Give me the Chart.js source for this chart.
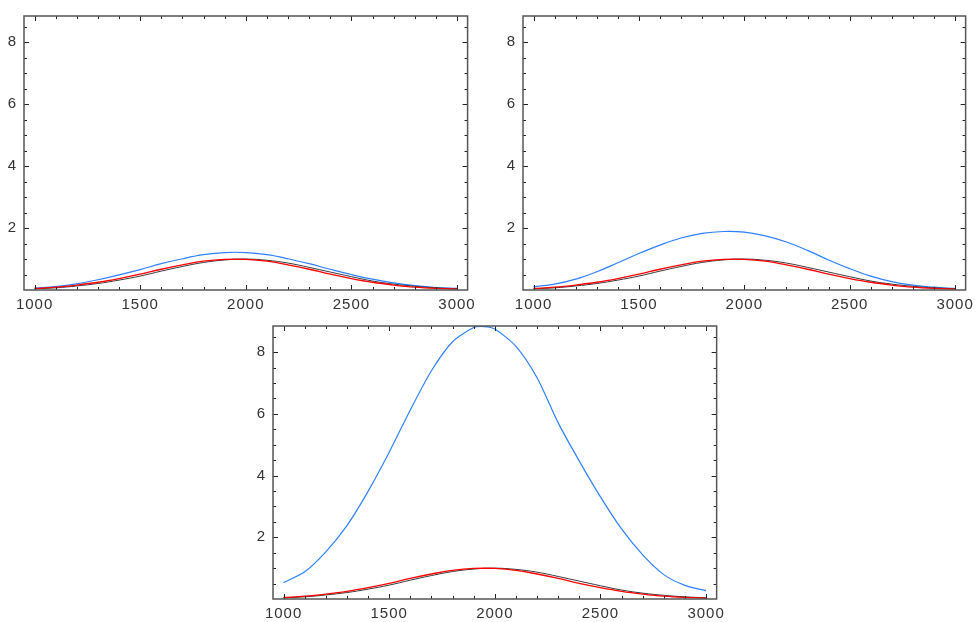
<!DOCTYPE html>
<html>
<head>
<meta charset="utf-8">
<script src="https://cdn.jsdelivr.net/npm/chart.js@4.4.1/dist/chart.umd.min.js"></script>
<style>
html, body { margin: 0; padding: 0; background: #fff; overflow: hidden; }
body { width: 978px; height: 622px; position: relative; }
.panel { position: absolute; }
</style>
</head>
<body>
<div class="panel" style="left:0;top:0"><canvas id="c1" width="480" height="315"></canvas></div>
<div class="panel" style="left:499px;top:0"><canvas id="c2" width="479" height="315"></canvas></div>
<div class="panel" style="left:249px;top:310px"><canvas id="c3" width="480" height="312"></canvas></div>
<script>
// valores
const xValues = [1000, 1100, 1200, 1300, 1400, 1500, 1600, 1700, 1800, 1900, 2000,
                 2100, 2200, 2300, 2400, 2500, 2600, 2700, 2800, 2900, 3000];
const blackCurve = [0.04, 0.07, 0.13, 0.21, 0.32, 0.45, 0.61, 0.76, 0.89, 0.97, 1.0,
                    0.96, 0.87, 0.73, 0.58, 0.43, 0.29, 0.19, 0.12, 0.07, 0.04];
const redCurve = [0.05, 0.09, 0.16, 0.25, 0.37, 0.51, 0.67, 0.81, 0.93, 0.99, 0.99,
                  0.93, 0.81, 0.67, 0.51, 0.37, 0.25, 0.16, 0.09, 0.05, 0.03];
const blueTopLeft = [0.06, 0.11, 0.2, 0.33, 0.49, 0.66, 0.85, 1.01, 1.14, 1.21, 1.21,
                     1.14, 1.01, 0.85, 0.67, 0.5, 0.35, 0.23, 0.14, 0.08, 0.05];
const blueTopRight = [0.11, 0.19, 0.35, 0.59, 0.88, 1.18, 1.45, 1.68, 1.83, 1.89, 1.87,
                      1.75, 1.55, 1.28, 0.97, 0.69, 0.45, 0.27, 0.155, 0.09, 0.05];
const blueBottomX = [1000, 1100, 1200, 1300, 1400, 1500, 1600, 1700, 1800, 1900, 1950,
                     2000, 2100, 2200, 2300, 2400, 2500, 2600, 2700, 2800, 2900, 3000];
const blueBottom = [0.53, 0.88, 1.53, 2.38, 3.49, 4.76, 6.13, 7.4, 8.34, 8.8, 8.83,
                    8.75, 8.19, 7.17, 5.71, 4.47, 3.31, 2.27, 1.43, 0.79, 0.44, 0.27];

const xTickLabels = [1000, 1500, 2000, 2500, 3000];
const yTickLabels = [2, 4, 6, 8];
const xMinorTicks = [1000, 1100, 1200, 1300, 1400, 1500, 1600, 1700, 1800, 1900, 2000,
                     2100, 2200, 2300, 2400, 2500, 2600, 2700, 2800, 2900, 3000];
const yMinorTicks = [0.5, 1, 1.5, 2, 2.5, 3, 3.5, 4, 4.5, 5, 5.5, 6, 6.5, 7, 7.5, 8, 8.5];

const tickFont = { family: "'Liberation Sans', sans-serif", size: 15 };

// marco con marcas hacia dentro en los cuatro lados
const frameTicks = {
    id: 'frameTicks',
    beforeDraw(chart) {
        chart.ctx.letterSpacing = '1px';
    },
    afterDraw(chart) {
        const { ctx, chartArea: a, scales: { x, y } } = chart;
        ctx.save();
        ctx.strokeStyle = '#222';
        ctx.lineWidth = 1;
        ctx.beginPath();
        xMinorTicks.forEach(v => {
            const px = Math.round(x.getPixelForValue(v)) + 0.5;
            const len = xTickLabels.includes(v) ? 5 : 3;
            ctx.moveTo(px, a.bottom); ctx.lineTo(px, a.bottom - len);
            ctx.moveTo(px, a.top); ctx.lineTo(px, a.top + len);
        });
        yMinorTicks.forEach(v => {
            const py = Math.round(y.getPixelForValue(v)) + 0.5;
            const len = yTickLabels.includes(v) ? 5 : 3;
            ctx.moveTo(a.left, py); ctx.lineTo(a.left + len, py);
            ctx.moveTo(a.right, py); ctx.lineTo(a.right - len, py);
        });
        ctx.stroke();
        ctx.strokeStyle = '#555';
        ctx.lineWidth = 1.5;
        ctx.strokeRect(a.left, a.top, a.right - a.left, a.bottom - a.top);
        ctx.restore();
    }
};

function toPoints(xs, ys) {
    return xs.map((x, i) => ({ x: x, y: ys[i] }));
}

function makePanel(id, blueX, blueY, blueTension, padRight, xAxisHeight) {
    return new Chart(document.getElementById(id), {
        type: 'line',
        data: {
            datasets: [
                { data: toPoints(xValues, redCurve), borderColor: '#ff0000', borderWidth: 1.3, tension: 0.4 },
                { data: toPoints(xValues, blackCurve), borderColor: '#3a3a3a', borderWidth: 1, tension: 0.4 },
                { data: toPoints(blueX, blueY), borderColor: '#2f80ff', borderWidth: 1.2, tension: blueTension }
            ]
        },
        options: {
            responsive: false,
            animation: false,
            events: [],
            layout: { padding: { top: 15, right: padRight, left: 0, bottom: 0 } },
            elements: { point: { radius: 0 } },
            plugins: { legend: { display: false }, tooltip: { enabled: false } },
            scales: {
                x: {
                    type: 'linear', min: 950, max: 3050,
                    grid: { display: false, drawTicks: false },
                    border: { display: false },
                    afterBuildTicks: s => { s.ticks = xTickLabels.map(v => ({ value: v })); },
                    afterFit: s => { s.height = xAxisHeight; },
                    ticks: { font: tickFont, color: '#333', padding: 6, maxRotation: 0, autoSkip: false,
                             callback: v => String(v) }
                },
                y: {
                    type: 'linear', min: 0, max: 8.85,
                    grid: { display: false, drawTicks: false },
                    border: { display: false },
                    afterBuildTicks: s => { s.ticks = yTickLabels.map(v => ({ value: v })); },
                    afterFit: s => { s.width = 24; },
                    ticks: { font: tickFont, color: '#333', padding: 7, callback: v => String(v) }
                }
            }
        },
        plugins: [frameTicks]
    });
}

makePanel('c1', xValues, blueTopLeft, 0.4, 12, 25);
makePanel('c2', xValues, blueTopRight, 0.4, 10, 25);
makePanel('c3', blueBottomX, blueBottom, 0.25, 10, 23);
</script>
</body>
</html>
